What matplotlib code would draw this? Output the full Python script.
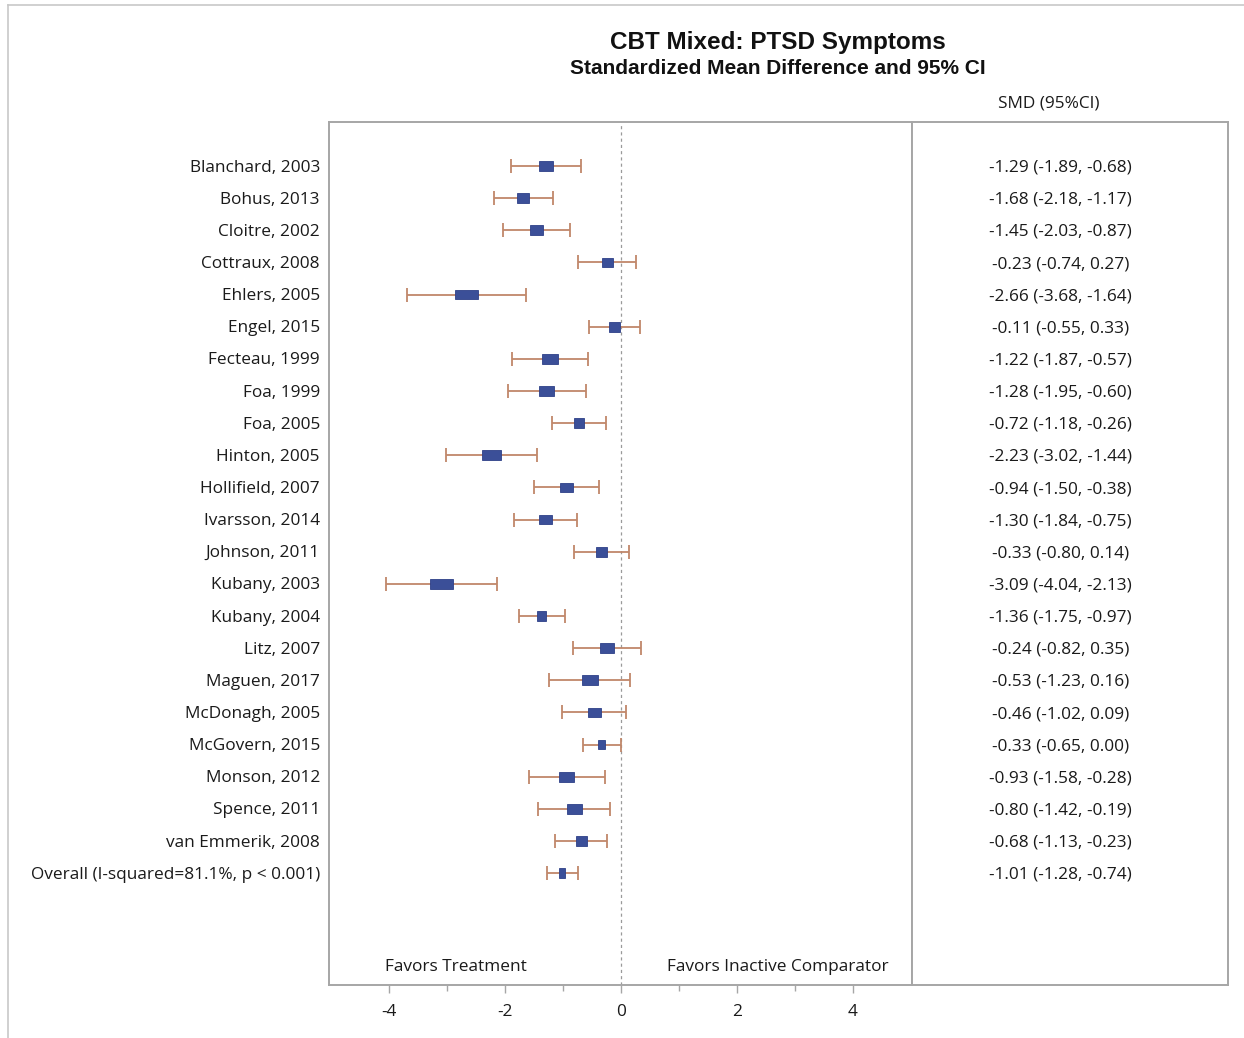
import matplotlib
matplotlib.use("Agg")
import matplotlib.pyplot as plt
import matplotlib.transforms as mtrans
from matplotlib.patches import Rectangle
from matplotlib.lines import Line2D

plt.rcParams['font.family'] = ['Open Sans', 'DejaVu Sans']
plt.rcParams['axes.unicode_minus'] = False

studies = ["Blanchard, 2003", "Bohus, 2013", "Cloitre, 2002", "Cottraux, 2008",
           "Ehlers, 2005", "Engel, 2015", "Fecteau, 1999", "Foa, 1999", "Foa, 2005",
           "Hinton, 2005", "Hollifield, 2007", "Ivarsson, 2014", "Johnson, 2011",
           "Kubany, 2003", "Kubany, 2004", "Litz, 2007", "Maguen, 2017",
           "McDonagh, 2005", "McGovern, 2015", "Monson, 2012", "Spence, 2011",
           "van Emmerik, 2008", "Overall (I-squared=81.1%, p < 0.001)"]
smd = [-1.29, -1.68, -1.45, -0.23, -2.66, -0.11, -1.22, -1.28, -0.72, -2.23, -0.94,
       -1.30, -0.33, -3.09, -1.36, -0.24, -0.53, -0.46, -0.33, -0.93, -0.80, -0.68, -1.01]
lo = [-1.89, -2.18, -2.03, -0.74, -3.68, -0.55, -1.87, -1.95, -1.18, -3.02, -1.50,
      -1.84, -0.80, -4.04, -1.75, -0.82, -1.23, -1.02, -0.65, -1.58, -1.42, -1.13, -1.28]
hi = [-0.68, -1.17, -0.87, 0.27, -1.64, 0.33, -0.57, -0.60, -0.26, -1.44, -0.38,
      -0.75, 0.14, -2.13, -0.97, 0.35, 0.16, 0.09, 0.00, -0.28, -0.19, -0.23, -0.74]
xticks = [-4, -2, 0, 2, 4]

BOX = "#3b4f98"
CI = "#c0876a"
FRAME = "#a6a6a6"
TXT = "#1a1a1a"
FS = 12.4

fig = plt.figure(figsize=(12.44, 10.38), dpi=100)
ax = fig.add_axes([329/1244, 1-985/1038, (912-329)/1244, (985-122)/1038])
tab = fig.add_axes([912/1244, 1-985/1038, (1228-912)/1244, (985-122)/1038])

rows = list(range(len(studies)))
ax.set_xlim(-5.03, 5.02)
ax.set_ylim(25.48, -1.37)

ax.axvline(0, color="#9a9a9a", lw=0.9, ls=(0, (2.5, 2.5)), zorder=1)
ax.errorbar(smd, rows, xerr=[[s - l for s, l in zip(smd, lo)], [h - s for s, h in zip(smd, hi)]],
            fmt='none', ecolor=CI, elinewidth=1.3, capsize=4.7, capthick=1.3, zorder=2)
for s, l, h, r in zip(smd, lo, hi, rows):
    w = 0.2 * (h - l)
    ax.add_patch(Rectangle((s - w/2, r - 0.15), w, 0.3, facecolor=BOX,
                           edgecolor="#2e4088", lw=0.6, zorder=3))

lab_tr = mtrans.blended_transform_factory(ax.transAxes, ax.transData)
for name, r in zip(studies, rows):
    ax.text(-0.0155, r + 0.05, name, transform=lab_tr, ha='right', va='center', fontsize=FS, color=TXT)

ax.text(-2.85, 24.92, "Favors Treatment", ha='center', va='center', fontsize=FS, color=TXT)
ax.text(2.7, 24.92, "Favors Inactive Comparator", ha='center', va='center', fontsize=FS, color=TXT)

ax.set_xticks(xticks)
ax.set_xticks([-3, -1, 1, 3], minor=True)
ax.set_yticks([])
ax.tick_params(axis='x', which='major', length=6, width=1, color=FRAME, pad=8,
               labelsize=FS, labelcolor=TXT)
ax.tick_params(axis='x', which='minor', length=4, width=1, color=FRAME)
for sp in ax.spines.values():
    sp.set_color(FRAME)
    sp.set_linewidth(1.4)

tab.set_xlim(0, 1)
tab.set_ylim(25.48, -1.37)
tab.set_xticks([])
tab.set_yticks([])
for sp in tab.spines.values():
    sp.set_color(FRAME)
    sp.set_linewidth(1.4)
for s, l, h, r in zip(smd, lo, hi, rows):
    tab.text(0.47, r + 0.05, f"{s:.2f} ({l:.2f}, {h:.2f})", ha='center', va='center',
             fontsize=FS, color=TXT)

fig.text(1049/1244, 1-103/1038, "SMD (95%CI)", ha='center', va='center', fontsize=FS, color=TXT)
fig.text(778/1244, 1-43/1038, "CBT Mixed: PTSD Symptoms", ha='center', va='center',
         fontsize=17.5, fontweight='bold', color="#111111", family=['Liberation Sans', 'DejaVu Sans'])
fig.text(778/1244, 1-69/1038, "Standardized Mean Difference and 95% CI", ha='center', va='center',
         fontsize=15, fontweight='bold', color="#111111", family=['Liberation Sans', 'DejaVu Sans'])

# screenshot frame
fig.add_artist(Line2D([8/1244, 1], [1-5/1038, 1-5/1038], color="#c8c8c8", lw=1.2))
fig.add_artist(Line2D([8/1244, 8/1244], [0, 1-5/1038], color="#c8c8c8", lw=1.2))

fig.savefig("out.png", dpi=100)
